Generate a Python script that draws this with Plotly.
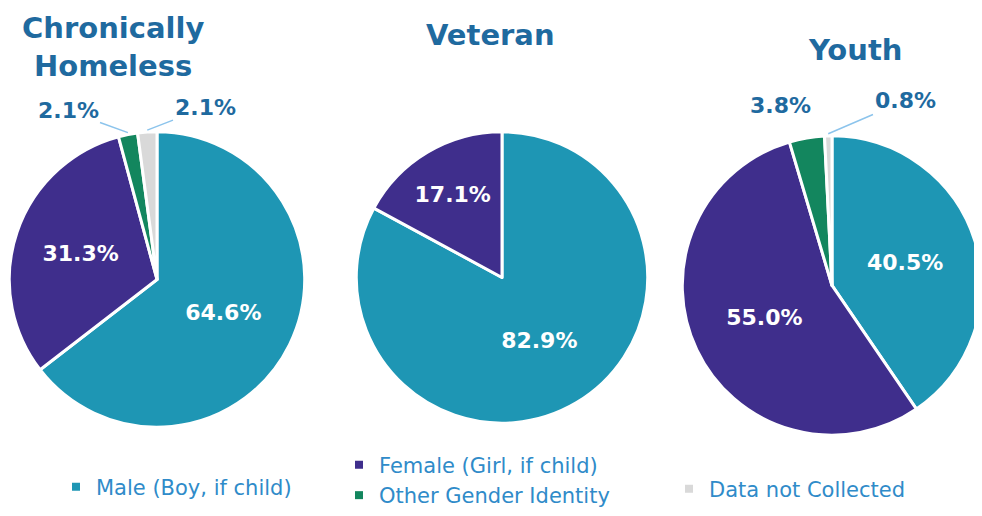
import math

import plotly.graph_objects as go

# data
categories = ["Male (Boy, if child)", "Female (Girl, if child)",
              "Other Gender Identity", "Data not Collected"]
colors = ["#1E96B4", "#3F2E8C", "#13865E", "#D9D9D9"]

chronic_values = [64.6, 31.3, 2.1, 2.1]
veteran_values = [82.9, 17.1]
youth_values = [40.5, 55.0, 3.8, 0.8]

titles = ["Chronically<br>Homeless", "Veteran", "Youth"]

# page is 982x516, the body has an 8px margin so the figure is a bit smaller
OFF = 8
FW, FH = 982 - OFF, 516 - OFF
TITLE_BLUE = "#1F6A9F"
LEGEND_BLUE = "#2F8BC9"
LINE_BLUE = "#8CC4EC"
FONT = "DejaVu Sans"

# pie geometry in page pixels: center x, center y, radius
geo = [(157, 280, 148), (502, 278, 146), (832, 286, 150)]


def px_x(px):
    return (px - OFF) / FW


def px_y(py):
    return 1 - (py - OFF) / FH


def domain(cx, cy, r):
    return dict(x=[max(0, px_x(cx - r)), min(1, px_x(cx + r))],
                y=[px_y(cy + r), px_y(cy - r)])


fig = go.Figure()

series = [chronic_values, veteran_values, youth_values]
for vals, (cx, cy, r) in zip(series, geo):
    n = len(vals)
    # small slices get their labels as annotations below
    texts = [f"<b>{v:.1f}%</b>" if v > 10 else "" for v in vals]
    fig.add_trace(go.Pie(
        labels=categories[:n],
        values=vals,
        text=texts,
        textinfo="text",
        textposition="inside",
        insidetextorientation="horizontal",
        insidetextfont=dict(color="white", size=22, family=FONT),
        marker=dict(colors=colors[:n], line=dict(color="white", width=3)),
        sort=False,
        direction="clockwise",
        rotation=0,
        domain=domain(cx, cy, r),
        showlegend=False,
        hoverinfo="label+value",
    ))

# legend entries as dummy traces, one small legend each
legend_of = ["legend", "legend2", "legend3", "legend4"]
for i, (name, col) in enumerate(zip(categories, colors)):
    fig.add_trace(go.Scatter(
        x=[None], y=[None], mode="markers", name=name,
        marker=dict(symbol="square", size=8, color=col),
        legend=legend_of[i],
    ))

annotations = []
title_pos = [(113, 47), (490, 35), (855, 50)]
for t, (tx, ty) in zip(titles, title_pos):
    annotations.append(dict(
        text=f"<b>{t}</b>", x=px_x(tx), y=px_y(ty), xref="paper", yref="paper",
        showarrow=False, font=dict(size=29, color=TITLE_BLUE, family=FONT),
        xanchor="center", yanchor="middle",
    ))


def edge_point(idx, vals, k):
    cx, cy, r = geo[idx]
    total = sum(vals)
    mid = (sum(vals[:k]) + vals[k] / 2) / total
    th = 2 * math.pi * mid
    return cx + r * math.sin(th), cy - r * math.cos(th)


# labels for the small slices: (pie, slice, label position px, arrow?)
small = [(0, 2, (68, 111), True), (0, 3, (205, 108), True),
         (2, 2, (780, 106), False), (2, 3, (905, 101), True)]
for pi, k, (lx, ly), arrow in small:
    vals = series[pi]
    px, py = edge_point(pi, vals, k)
    ann = dict(
        text=f"<b>{vals[k]:.1f}%</b>", xref="paper", yref="paper",
        font=dict(size=22, color=TITLE_BLUE, family=FONT),
        xanchor="center", yanchor="middle",
    )
    if arrow:
        ann.update(x=px_x(px), y=px_y(py - 2), ax=lx - px, ay=ly - py + 2,
                   showarrow=True, arrowhead=0, arrowwidth=1.5,
                   arrowcolor=LINE_BLUE, standoff=0)
    else:
        ann.update(x=px_x(lx), y=px_y(ly), showarrow=False)
    annotations.append(ann)

legend_font = dict(size=21, color=LEGEND_BLUE, family=FONT)


def leg(x, y):
    # legends must stay inside the paper, otherwise they push the margins
    return dict(x=px_x(x), y=px_y(y), xanchor="left", yanchor="middle",
                font=legend_font, bgcolor="rgba(0,0,0,0)")


fig.update_layout(
    width=FW, height=FH,
    margin=dict(l=0, r=0, t=0, b=0),
    paper_bgcolor="white",
    plot_bgcolor="white",
    xaxis=dict(visible=False),
    yaxis=dict(visible=False),
    annotations=annotations,
    legend=leg(56, 487),
    legend2=leg(339, 465),
    legend3=leg(339, 496),
    legend4=leg(669, 489),
)

fig.write_html("out.html")
